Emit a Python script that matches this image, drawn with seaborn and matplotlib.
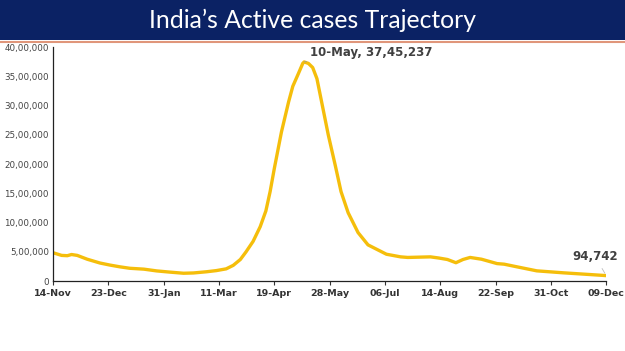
import pandas as pd
import numpy as np
import matplotlib
matplotlib.use('Agg')
import matplotlib.pyplot as plt
import matplotlib.dates as mdates
from matplotlib.ticker import FuncFormatter
import seaborn as sns

# Active cases
dates = ['2020-11-14', '2020-11-20', '2020-11-24', '2020-11-27', '2020-12-01', '2020-12-08',
         '2020-12-17', '2020-12-24', '2020-12-31', '2021-01-07', '2021-01-17', '2021-01-26',
         '2021-02-04', '2021-02-14', '2021-02-21', '2021-03-02', '2021-03-09', '2021-03-16',
         '2021-03-21', '2021-03-26', '2021-03-30', '2021-04-04', '2021-04-09', '2021-04-13',
         '2021-04-16', '2021-04-19', '2021-04-24', '2021-04-29', '2021-05-02', '2021-05-06',
         '2021-05-09', '2021-05-10', '2021-05-13', '2021-05-16', '2021-05-19', '2021-05-22',
         '2021-05-27', '2021-06-01', '2021-06-05', '2021-06-10', '2021-06-17', '2021-06-24',
         '2021-07-07', '2021-07-17', '2021-07-22', '2021-07-30', '2021-08-07', '2021-08-13',
         '2021-08-19', '2021-08-25', '2021-08-30', '2021-09-04', '2021-09-12', '2021-09-23',
         '2021-09-28', '2021-10-07', '2021-10-21', '2021-11-09', '2021-11-23', '2021-12-09']
active = [485000, 440000, 435000, 455000, 440000, 375000,
          310000, 275000, 245000, 220000, 205000, 175000,
          155000, 135000, 140000, 160000, 180000, 210000,
          270000, 370000, 500000, 680000, 930000, 1200000,
          1530000, 1930000, 2550000, 3060000, 3330000, 3550000,
          3720000, 3745237, 3720000, 3650000, 3460000, 3100000,
          2500000, 1970000, 1530000, 1170000, 830000, 620000,
          460000, 415000, 405000, 410000, 415000, 395000,
          370000, 315000, 370000, 405000, 375000, 300000,
          290000, 245000, 176000, 142000, 120000, 94742]

tick_start = '2020-11-14'
tick_step_days = 39
n_ticks = 11

df = pd.DataFrame({'Date': pd.to_datetime(dates), 'Active': active})

sns.set_style('white')
plt.rcParams['font.family'] = ['DejaVu Sans']

fig = plt.figure(figsize=(6.25, 3.51), dpi=100)
ax = fig.add_axes([0.085, 0.199, 0.885, 0.667])

sns.lineplot(data=df, x='Date', y='Active', color='#F5BE0B', linewidth=2.4, ax=ax)

ticks = pd.date_range(tick_start, periods=n_ticks, freq=f'{tick_step_days}D')
ax.set_xticks(ticks)
ax.xaxis.set_major_formatter(mdates.DateFormatter('%d-%b'))
ax.set_xlim(ticks[0], ticks[-1])
ax.set_ylim(0, 4000000)
ax.set_yticks(np.arange(0, 4000001, 500000))


def indian_fmt(v, pos):
    v = int(round(v))
    if v == 0:
        return '0'
    s = str(v)
    last3 = s[-3:]
    rest = s[:-3]
    groups = []
    while len(rest) > 2:
        groups.insert(0, rest[-2:])
        rest = rest[:-2]
    if rest:
        groups.insert(0, rest)
    return ','.join(groups + [last3])


ax.yaxis.set_major_formatter(FuncFormatter(indian_fmt))
ax.set_xlabel('')
ax.set_ylabel('')
for lab in ax.get_xticklabels():
    lab.set_fontweight('bold')
ax.tick_params(axis='x', labelsize=6.8, colors='#333333', length=3, width=0.8, direction='out', pad=3, bottom=True)
ax.tick_params(axis='y', labelsize=6.3, colors='#444444', length=0, pad=3)
for s in ['top', 'right']:
    ax.spines[s].set_visible(False)
for s in ['left', 'bottom']:
    ax.spines[s].set_color('#222222')
    ax.spines[s].set_linewidth(0.9)

# annotations for peak and latest value
peak_i = df['Active'].idxmax()
peak_date = df.loc[peak_i, 'Date']
peak_val = df.loc[peak_i, 'Active']
ax.annotate(f"{peak_date.strftime('%d-%b')}, {indian_fmt(peak_val, None)}",
            xy=(peak_date, peak_val), xytext=(peak_date + pd.Timedelta(days=4), peak_val + 160000),
            fontsize=8.5, fontweight='bold', color='#404040', ha='left', va='center',
            arrowprops=dict(arrowstyle='-', color='#999999', lw=0.6))
last_date = df['Date'].iloc[-1]
last_val = df['Active'].iloc[-1]
ax.annotate(indian_fmt(last_val, None),
            xy=(last_date, last_val), xytext=(last_date - pd.Timedelta(days=8), last_val + 330000),
            fontsize=8.5, fontweight='bold', color='#404040', ha='center', va='center',
            arrowprops=dict(arrowstyle='-', color='#bbbbbb', lw=0.6))

# title banner
bar = fig.add_axes([0, 1 - 40 / 351, 1, 40 / 351])
bar.set_facecolor('#0B2264')
bar.set_xticks([])
bar.set_yticks([])
for s in bar.spines.values():
    s.set_visible(False)
bar.text(0.5, 0.5, 'India\u2019s Active cases Trajectory', color='white', fontsize=17.8,
         ha='center', va='center', family=['Lato', 'DejaVu Sans'], transform=bar.transAxes)
fig.add_artist(plt.Line2D([0, 1], [1 - 41.5 / 351, 1 - 41.5 / 351], color='#E0967A', lw=1.5))

fig.savefig('out.png', dpi=100)
